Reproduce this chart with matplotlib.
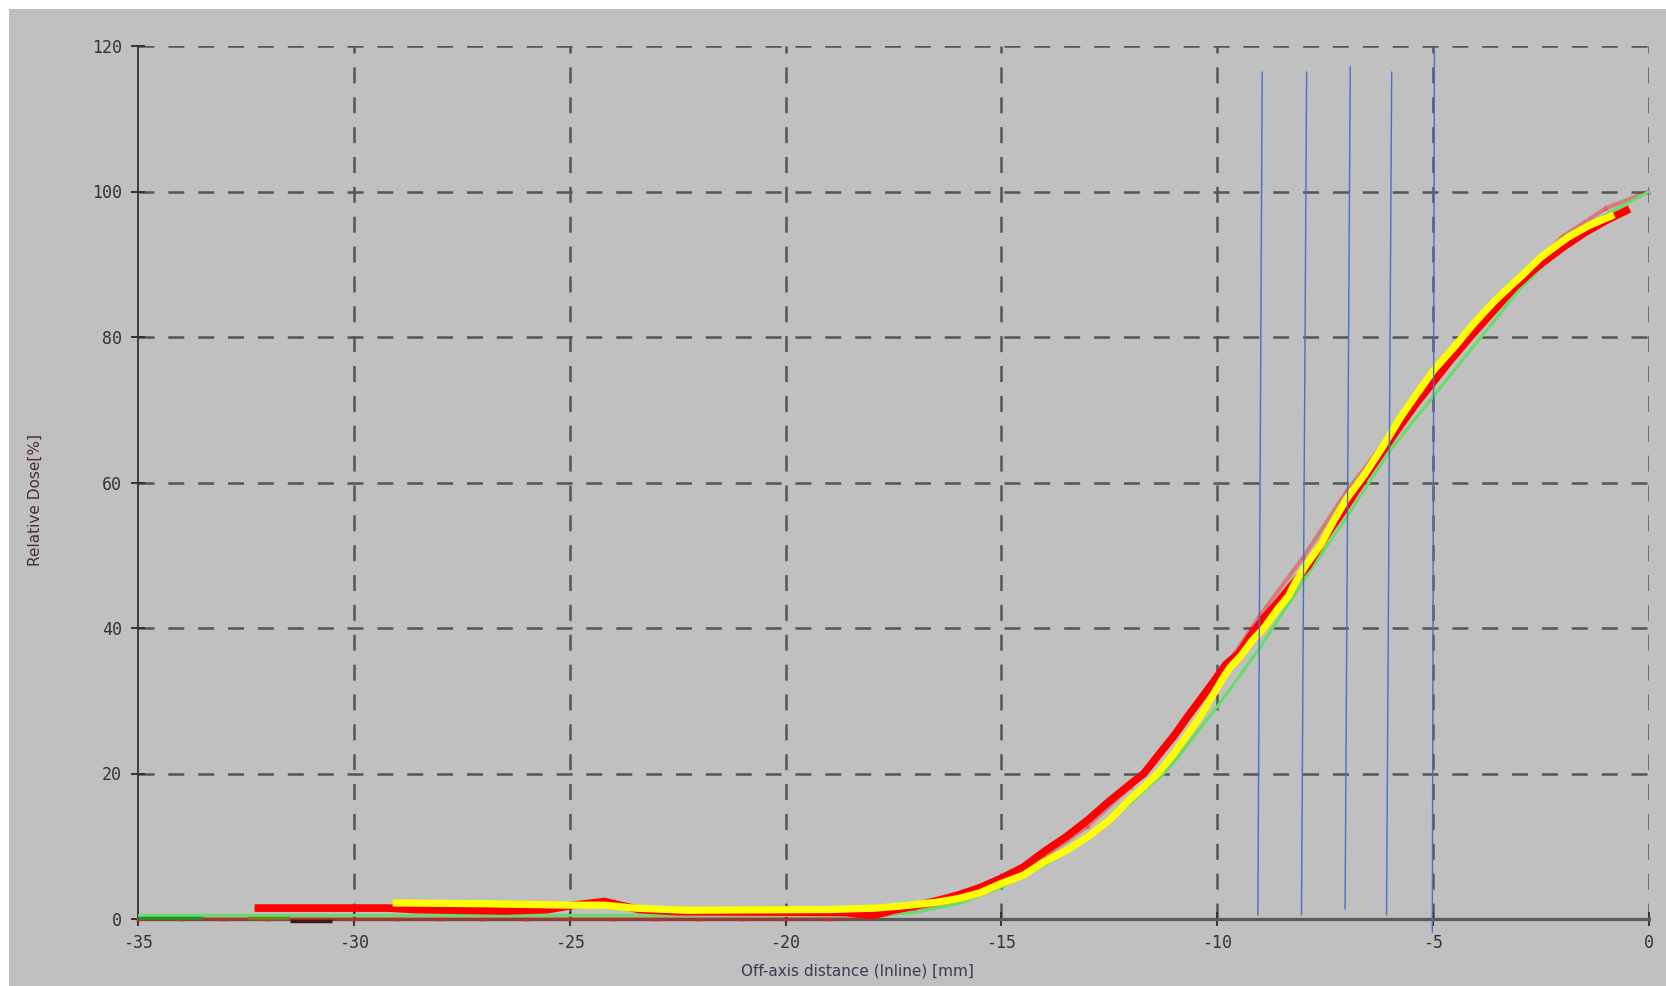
import numpy as np
import matplotlib
matplotlib.use("Agg")
import matplotlib.pyplot as plt
from matplotlib.patches import Rectangle

plt.rcParams['lines.scale_dashes'] = False
plt.rcParams['lines.solid_capstyle'] = 'butt'

# Axis ticks
x_ticks = [-35, -30, -25, -20, -15, -10, -5, 0]
x_tick_labels = ['-35', '-30', '-25', '-20', '-15', '-10', '-5', '0']
y_ticks = [0, 20, 40, 60, 80, 100, 120]
y_tick_labels = ['0', '20', '40', '60', '80', '100', '120']

# Model profile (light green)
green_x = [-35, -30, -25, -20, -18, -17, -16, -15, -14, -13, -12, -11.24, -11, -10, -9,
           -8, -7, -6, -5, -4, -3, -2, -1, 0]
green_y = [0.5, 0.5, 0.5, 0.5, 0.5, 0.9, 2.1, 4.4, 7.4, 11.0, 16.0, 20.0, 21.6, 29.2, 37.4,
           46.5, 55.3, 64.4, 71.8, 79.2, 86.5, 92.5, 96.8, 100.0]

# Measured profile with triangles (faint red), one point per mm
tri_x = list(range(-35, 1))
tri_y = [0, 0, 0, 0, 0, 0, 0, 0, 0, 0, 0, 0, 0, 0, 0, 0, 0,
         0.3, 1.2, 2.6, 5.0, 8.6, 12.8, 18.2, 25.0, 33.0, 41.8, 49.8, 58.8,
         66.5, 74.3, 81.3, 87.8, 93.8, 97.7, 100.0]

# Thick red profile
red_x = [-32.3, -29.2, -28.6, -26.5, -25.5, -24.9, -24.2, -23.4, -22.5, -20.0, -18.6, -18.0,
         -17.5, -17.0, -16.5, -16.0, -15.5, -15.0, -14.5, -14.0, -13.5, -13.0, -12.5, -12.0,
         -11.7, -11.3, -11.0, -10.69, -10.4, -10.1, -9.8, -9.5, -9.15, -8.9, -8.6, -8.23,
         -7.9, -7.5, -7.07, -6.6, -6.2, -5.8, -5.4, -5.0, -4.6, -4.1, -3.6, -3.1, -2.6,
         -2.0, -1.5, -1.0, -0.45]
red_y = [1.5, 1.5, 1.3, 1.1, 1.3, 1.9, 2.4, 1.3, 1.0, 0.95, 0.9, 0.45,
         1.2, 1.8, 2.5, 3.3, 4.3, 5.6, 7.1, 9.3, 11.3, 13.6, 16.2, 18.6,
         20.0, 23.0, 25.2, 27.8, 30.1, 32.5, 35.0, 36.5, 39.6, 41.5, 43.5, 46.2,
         48.5, 52.5, 56.2, 60.5, 64.0, 67.5, 70.8, 73.8, 76.8, 80.3, 83.6, 86.9, 89.6,
         92.3, 94.3, 96.0, 97.6]

# Thick yellow profile
yellow_x = [-29.1, -27.0, -25.0, -24.2, -23.5, -22.3, -21.0, -19.0, -17.9, -17.3, -16.5,
            -16.0, -15.5, -15.0, -14.5, -14.0, -13.5, -13.0, -12.5, -12.0, -11.7, -11.38,
            -11.0, -10.7, -10.4, -10.1, -9.85, -9.7, -9.45, -9.2, -8.92, -8.6, -8.35, -8.2,
            -7.95, -7.6, -7.3, -7.0, -6.6, -6.17, -5.75, -5.4, -4.98, -4.5, -4.05, -3.6,
            -3.3, -2.97, -2.5, -1.88, -1.4, -0.81]
yellow_y = [2.2, 2.1, 1.9, 1.9, 1.5, 1.2, 1.25, 1.3, 1.5, 1.8, 2.3,
            2.8, 3.6, 4.9, 6.0, 7.9, 9.4, 11.3, 13.6, 16.6, 18.2, 20.0,
            22.8, 25.3, 27.8, 30.8, 33.3, 34.6, 36.2, 38.2, 40.0, 42.6, 44.4, 46.2,
            48.6, 51.5, 54.8, 57.8, 61.0, 64.9, 69.0, 72.0, 75.5, 78.7, 81.9, 84.8,
            86.5, 88.3, 91.0, 93.7, 95.3, 96.8]

# Short leftover segments on the baseline
dkgreen_x = [-35.0, -33.5]
dkgreen_y = [0.2, 0.2]
olive_x = [-32.45, -31.5]
olive_y = [0.2, 0.2]
maroon_x = [-31.47, -30.5]
maroon_y = [-0.3, -0.3]

# Hand drawn blue markers (top / bottom ends)
blue_top_x = [-8.96, -7.93, -6.92, -5.96, -4.97]
blue_top_y = [116.5, 116.5, 117.2, 116.5, 119.3]
blue_bot_x = [-9.06, -8.05, -7.04, -6.08, -5.02]
blue_bot_y = [0.5, 0.5, 1.3, 0.5, -1.9]

W, H = 1666, 986
fig = plt.figure(figsize=(W / 100, H / 100), dpi=100)
fig.patch.set_facecolor('white')
fig.patches.append(Rectangle((9 / W, 0), 1, 1 - 9 / H, transform=fig.transFigure,
                             facecolor='#c0c0c0', edgecolor='none', zorder=-10))

ax = fig.add_axes([138 / W, 1 - 919 / H, (1649 - 138) / W, (919 - 46) / H])
ax.set_facecolor('none')

ax.set_xlim(-35, 0)
ax.set_ylim(0, 120)
ax.set_xticks(x_ticks)
ax.set_xticklabels(x_tick_labels)
ax.set_yticks(y_ticks)
ax.set_yticklabels(y_tick_labels)

ax.set_axisbelow(True)
ax.grid(True, color='#555555', linewidth=1.8, dashes=(11.5, 10))
# the left axis line replaces the first vertical grid line
ax.xaxis.get_gridlines()[0].set_visible(False)

for s in ['top', 'right']:
    ax.spines[s].set_visible(False)
ax.spines['left'].set_color('#333333')
ax.spines['left'].set_linewidth(1.3)
ax.spines['bottom'].set_color('#5c5c5c')
ax.spines['bottom'].set_linewidth(2.4)

ax.tick_params(direction='inout', length=10, width=1.4, color='#333333',
               labelcolor='#333333', labelsize=12)
ax.tick_params(axis='y', pad=6.5)
ax.tick_params(axis='x', pad=6)
for lab in ax.get_xticklabels() + ax.get_yticklabels():
    lab.set_family('DejaVu Sans Mono')

# curves
ax.plot(tri_x, tri_y, color='#ff0000', alpha=0.35, lw=3, marker='^', markersize=4,
        markerfacecolor='#ff2020', markeredgewidth=0, zorder=3, clip_on=False)
ax.plot(green_x, green_y, color='#66dd66', lw=2.2, zorder=4, clip_on=False)
ax.plot(dkgreen_x, dkgreen_y, color='#2d8a2d', lw=2.5, zorder=4.5, clip_on=False)
ax.plot(olive_x, olive_y, color='#6b7f20', lw=2.5, zorder=4.5, clip_on=False)
ax.plot(maroon_x, maroon_y, color='#4a1515', lw=2.5, zorder=4.5, clip_on=False)
ax.plot(red_x, red_y, color='#ff0000', lw=5.5, zorder=5, solid_joinstyle='round')
ax.plot(yellow_x, yellow_y, color='#ffff00', lw=5.2, zorder=6, solid_joinstyle='round')

for xt, yt, xb, yb in zip(blue_top_x, blue_top_y, blue_bot_x, blue_bot_y):
    ax.plot([xt, xb], [yt, yb], color='#4472c4', lw=1.0, zorder=7, clip_on=False)

ax.set_xlabel('Off-axis distance (Inline) [mm]', fontsize=11, color='#3a3a4e')
ax.xaxis.set_label_coords((857 - 138) / 1511, (919 - 963) / 873)
ax.set_ylabel('Relative Dose[%]', fontsize=11, color='#4a2a40')
ax.yaxis.set_label_coords((43 - 138) / 1511, (919 - 500) / 873)

fig.savefig('out.png', dpi=100, facecolor=fig.get_facecolor())
